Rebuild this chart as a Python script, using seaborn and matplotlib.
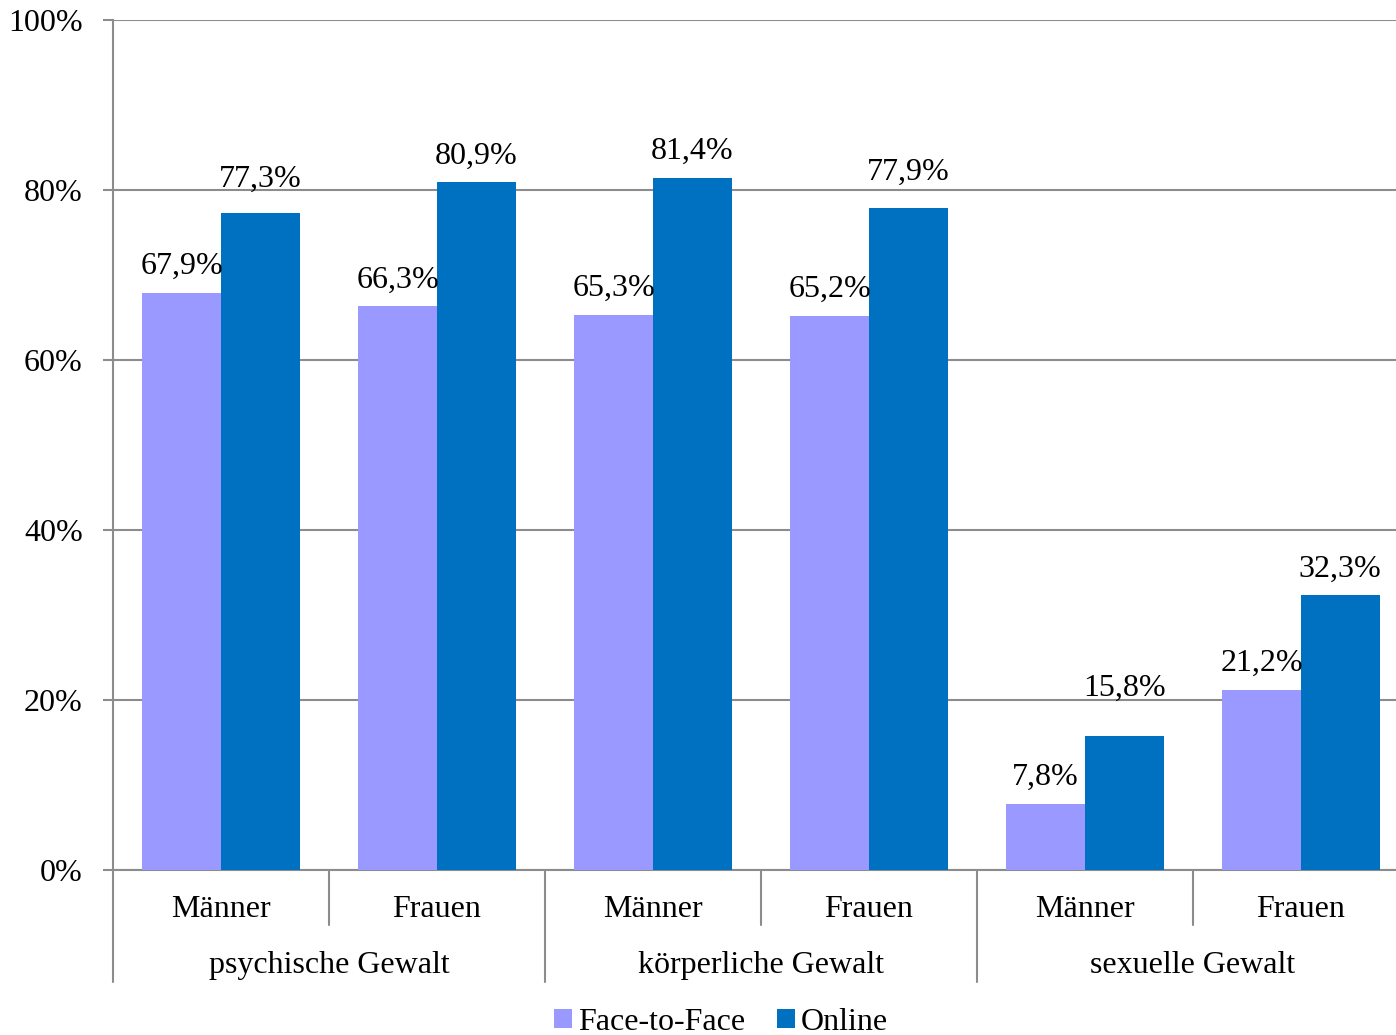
import matplotlib
matplotlib.use("Agg")
import matplotlib.pyplot as plt
import matplotlib.transforms as mtransforms
from matplotlib.patches import Patch
import seaborn as sns
import pandas as pd

# Chart data
groups = ["psychische Gewalt", "körperliche Gewalt", "sexuelle Gewalt"]
genders = ["Männer", "Frauen"]
series_names = ["Face-to-Face", "Online"]
face_to_face = [67.9, 66.3, 65.3, 65.2, 7.8, 21.2]
online = [77.3, 80.9, 81.4, 77.9, 15.8, 32.3]
y_ticks = [0, 20, 40, 60, 80, 100]

# extra lift (in px) for a few labels that are moved up to avoid collisions
label_lift_px = {("Online", 0): 7, ("Online", 3): 9, ("Online", 4): 21}

colors = {"Face-to-Face": "#9999FF", "Online": "#0070C0"}
grid_color = "#8C8C8C"
font_size = 23

sns.set_style("white")
plt.rcParams["font.family"] = ["Liberation Serif", "DejaVu Serif"]
plt.rcParams["text.color"] = "black"
plt.rcParams["xtick.labelcolor"] = "black"
plt.rcParams["ytick.labelcolor"] = "black"

# long-format table for seaborn
cat_keys = [f"{g}|{s}" for g in groups for s in genders]
rows = []
for name, vals in zip(series_names, [face_to_face, online]):
    for key, v in zip(cat_keys, vals):
        rows.append({"cat": key, "series": name, "value": v})
df = pd.DataFrame(rows)

W, H = 1396, 1035
fig = plt.figure(figsize=(W / 100, H / 100), dpi=100)
ax_left, ax_right, ax_top, ax_bottom = 113, 1409, 20, 870
ax = fig.add_axes([ax_left / W, (H - ax_bottom) / H,
                   (ax_right - ax_left) / W, (ax_bottom - ax_top) / H])

sns.barplot(data=df, x="cat", y="value", hue="series", order=cat_keys,
            hue_order=series_names, palette=colors, width=0.727,
            linewidth=0, saturation=1, ax=ax, legend=False, zorder=3)

ax.set_ylim(0, 100)
ax.set_xlim(-0.5, len(cat_keys) - 0.5)
ax.set_yticks(y_ticks)
ax.set_yticklabels([f"{t}%" for t in y_ticks], fontsize=font_size,
                   color="black")
ax.yaxis.grid(True, color=grid_color, linewidth=1.5, zorder=0)
ax.set_axisbelow(True)
ax.tick_params(axis="y", length=7.2, width=1.5, color=grid_color, pad=14.5,
               direction="out", left=True)
ax.set_xlabel("")
ax.set_ylabel("")

for side in ["top", "right"]:
    ax.spines[side].set_visible(False)
for side in ["left", "bottom"]:
    ax.spines[side].set_color(grid_color)
    ax.spines[side].set_linewidth(1.5)

# bar value labels
px = 72 / 100
for name, container in zip(series_names, ax.containers):
    for i, bar in enumerate(container):
        h = bar.get_height()
        lift = 19 + label_lift_px.get((name, i), 0)
        ax.annotate(f"{h:.1f}%".replace(".", ","),
                    xy=(bar.get_x() + bar.get_width() / 2, h),
                    xytext=(0, lift * px), textcoords="offset points",
                    ha="center", va="baseline", fontsize=font_size,
                    color="black", zorder=5)

# two-level category axis
ax.set_xticks([])
trans = mtransforms.blended_transform_factory(ax.transData, ax.transAxes)
axis_h = ax_bottom - ax_top
def ay(ypx):
    return -(ypx - ax_bottom) / axis_h

for i, key in enumerate(cat_keys):
    ax.text(i, ay(917), key.split("|")[1], transform=trans, ha="center",
            va="baseline", fontsize=font_size, color="black")
for gi, g in enumerate(groups):
    ax.text(2 * gi + 0.5, ay(973), g, transform=trans, ha="center",
            va="baseline", fontsize=font_size, color="black")
    # separator between the two sub-categories
    ax.plot([2 * gi + 0.5] * 2, [0, ay(925)], transform=trans,
            color=grid_color, linewidth=1.5, clip_on=False)
for gi in range(len(groups) + 1):
    xb = 2 * gi - 0.5
    ax.plot([xb] * 2, [0, ay(982)], transform=trans,
            color=grid_color, linewidth=1.5, clip_on=False)

# legend
handles = [Patch(facecolor=colors[n], edgecolor="none", label=n)
           for n in series_names]
leg = fig.legend(handles=handles, loc="center", ncol=2, frameon=False,
                 bbox_to_anchor=(721 / W, 1 - 1022 / H), fontsize=font_size,
                 handlelength=0.55, handleheight=0.55, handletextpad=0.2,
                 columnspacing=1.0, borderpad=0)
for t in leg.get_texts():
    t.set_color("black")

fig.savefig("out.png", dpi=100)
